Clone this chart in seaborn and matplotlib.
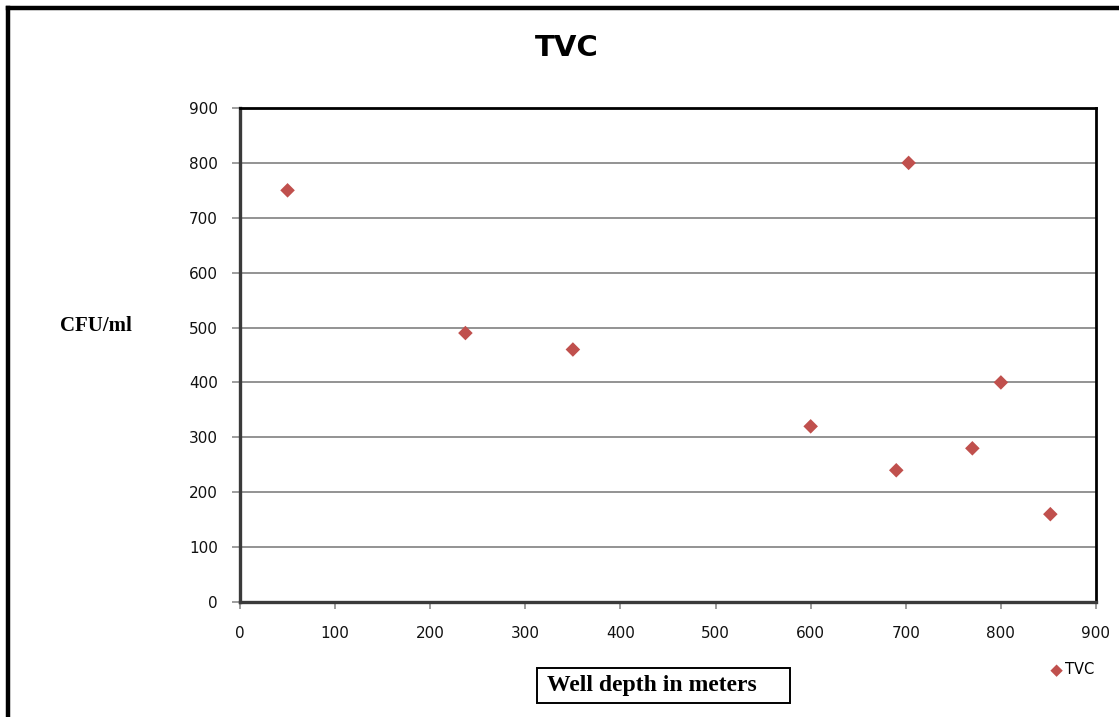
import matplotlib
matplotlib.use("Agg")
import matplotlib.pyplot as plt
from matplotlib.lines import Line2D
from matplotlib.patches import Rectangle
import seaborn as sns
import pandas as pd

# Total viable count by well depth
depth_m = [50, 237, 350, 600, 690, 703, 770, 800, 852]
cfu_per_ml = [750, 490, 460, 320, 240, 800, 280, 400, 160]
x_ticks = [0, 100, 200, 300, 400, 500, 600, 700, 800, 900]
y_ticks = [0, 100, 200, 300, 400, 500, 600, 700, 800, 900]
series_name = "TVC"

df = pd.DataFrame({"depth": depth_m, "cfu": cfu_per_ml})

sns.set_theme(style="white")
plt.rcParams["font.family"] = ["DejaVu Sans"]
plt.rcParams["text.color"] = "black"

W, H = 1119, 717
fig = plt.figure(figsize=(W / 100, H / 100), dpi=100)
fig.patch.set_facecolor("white")

ax = fig.add_axes([240 / W, 1 - 602 / H, (1096 - 240) / W, (602 - 108) / H])

sns.scatterplot(data=df, x="depth", y="cfu", ax=ax, marker="D", s=55,
                color="#C0504D", edgecolor="none", linewidth=0,
                label=series_name, zorder=3)

ax.set_xlim(0, 900)
ax.set_ylim(0, 900)
ax.set_xticks(x_ticks)
ax.set_yticks(y_ticks)
ax.set_xlabel("")
ax.set_ylabel("")

ax.yaxis.grid(True, color="#939393", linewidth=1.4)
ax.xaxis.grid(False)
ax.set_axisbelow(True)

for side in ("left", "bottom"):
    ax.spines[side].set_color("#3a3a3a")
    ax.spines[side].set_linewidth(2.4)
for side in ("top", "right"):
    ax.spines[side].set_color("black")
    ax.spines[side].set_linewidth(2.0)

ax.tick_params(axis="y", direction="out", length=6, width=1.2, color="#8c8c8c",
               pad=10, labelsize=11, labelcolor="#111111", left=True)
ax.tick_params(axis="x", direction="out", length=5, width=1.2, color="#8c8c8c",
               pad=12, labelsize=11, labelcolor="#111111", bottom=True)

# Title and axis captions
fig.text(567 / W, 1 - 48 / H, "TVC", ha="center", va="center",
         fontsize=21, fontweight="bold", color="black")
fig.text(96 / W, 1 - 326 / H, "CFU/ml", ha="center", va="center",
         fontsize=15, fontweight="bold", family=["Liberation Serif"], color="black")

# Boxed x-axis caption
fig.add_artist(Rectangle((537 / W, 1 - 703 / H), (790 - 537) / W, (703 - 668) / H,
                         transform=fig.transFigure, facecolor="white",
                         edgecolor="black", linewidth=1.4))
fig.text(652 / W, 1 - 686 / H, "Well depth in meters", ha="center", va="center",
         fontsize=17, fontweight="bold", family=["Liberation Serif"], color="black")

leg = ax.legend(loc="center left", bbox_to_anchor=(1042 / W, 1 - 670 / H),
                bbox_transform=fig.transFigure, frameon=False, fontsize=10.5,
                handletextpad=0.1, borderpad=0, markerscale=0.85,
                handlelength=1.0)
for t in leg.get_texts():
    t.set_color("black")

# Outer frame along the top and left edges
fig.add_artist(Line2D([8 / W, 8 / W], [0, 1 - 8 / H], transform=fig.transFigure,
                      color="black", linewidth=3.2, solid_capstyle="projecting"))
fig.add_artist(Line2D([8 / W, 1], [1 - 8 / H, 1 - 8 / H], transform=fig.transFigure,
                      color="black", linewidth=3.2, solid_capstyle="projecting"))

fig.savefig("out.png", dpi=100, facecolor="white")
